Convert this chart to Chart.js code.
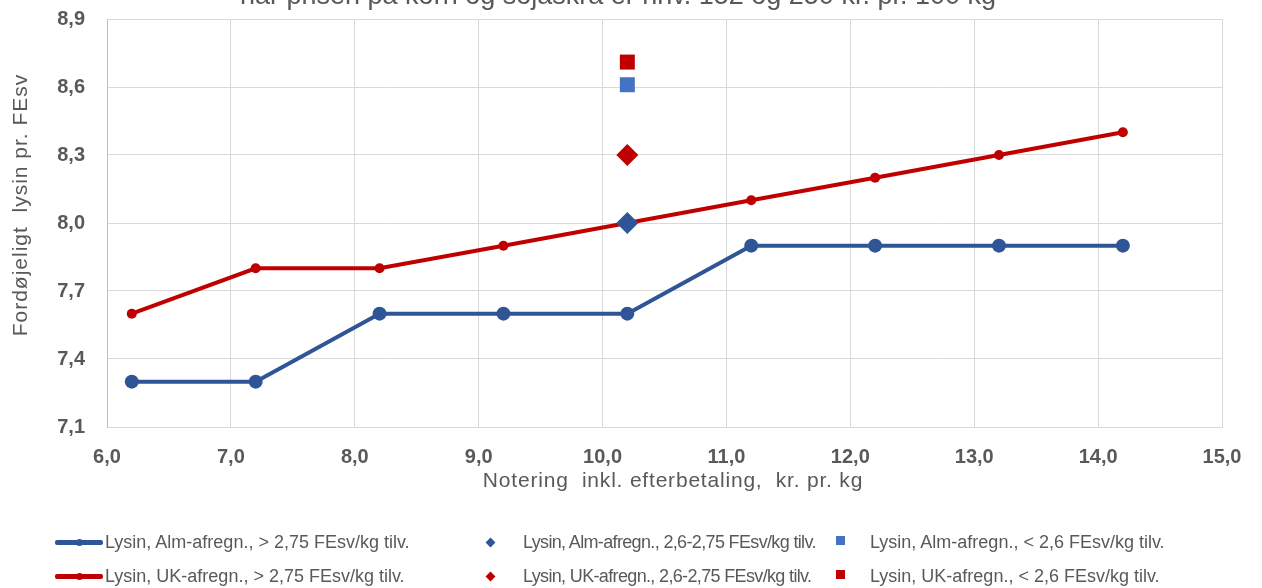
<!DOCTYPE html>
<html>
<head>
<meta charset="utf-8">
<script src="https://cdn.jsdelivr.net/npm/chart.js@4/dist/chart.umd.min.js"></script>
<style>
  html, body { margin: 0; padding: 0; background: #fff; }
  #wrap { position: relative; width: 1262px; height: 588px; overflow: hidden; font-family: "Liberation Sans", Arial, sans-serif; }
  canvas { position: absolute; left: 0; top: 0; }
  .leg { position: absolute; font-size: 18px; color: #595959; white-space: nowrap; line-height: 20px; }
  .sw { position: absolute; }
</style>
</head>
<body>
<div id="wrap">
  <canvas id="c" width="1262" height="588"></canvas>
  <div id="legend"></div>
</div>
<script>
// ---- data ----
const titleText = "når prisen på korn og sojaskrå er hhv. 152 og 250 kr. pr. 100 kg";
const xTitle = "Notering  inkl. efterbetaling,  kr. pr. kg";
const yTitle = "Fordøjeligt  lysin pr. FEsv";
const xValues = [6.2, 7.2, 8.2, 9.2, 10.2, 11.2, 12.2, 13.2, 14.2];
const almLine = [7.3, 7.3, 7.6, 7.6, 7.6, 7.9, 7.9, 7.9, 7.9];
const ukLine  = [7.6, 7.8, 7.8, 7.9, 8.0, 8.1, 8.2, 8.3, 8.4];
const midX = 10.2;
const almDiamond = 8.0;
const ukDiamond = 8.3;
const almSquare = 8.61;
const ukSquare = 8.71;
const labels = [
  "Lysin, Alm-afregn., > 2,75 FEsv/kg tilv.",
  "Lysin, Alm-afregn., 2,6-2,75 FEsv/kg tilv.",
  "Lysin, Alm-afregn., < 2,6 FEsv/kg tilv.",
  "Lysin, UK-afregn., > 2,75 FEsv/kg tilv.",
  "Lysin, UK-afregn., 2,6-2,75 FEsv/kg tilv.",
  "Lysin, UK-afregn., < 2,6 FEsv/kg tilv."
];

const BLUE = "#2F5597", BLUE2 = "#4472C4", RED = "#C00000", GREY = "#595959";
const toPts = (xs, ys) => xs.map((x, i) => ({x, y: ys[i]}));

const extraText = {
  id: 'extraText',
  afterDraw(chart) {
    const ctx = chart.ctx;
    ctx.save();
    ctx.fillStyle = GREY;
    ctx.textAlign = 'center';
    ctx.textBaseline = 'alphabetic';
    ctx.font = '27px "Liberation Sans", Arial, sans-serif';
    ctx.fillText(titleText, 618, 4);
    ctx.textBaseline = 'middle';
    ctx.font = '21px "Liberation Sans", Arial, sans-serif';
    ctx.letterSpacing = '0.8px';
    ctx.fillText(xTitle, 673, 481);
    ctx.letterSpacing = '1px';
    ctx.translate(21, 205);
    ctx.rotate(-Math.PI / 2);
    ctx.fillText(yTitle, 0, 0);
    ctx.restore();
  }
};

new Chart(document.getElementById('c'), {
  type: 'scatter',
  data: {
    datasets: [
      { label: labels[1], data: [{x: midX, y: almDiamond}], backgroundColor: BLUE, borderColor: BLUE, pointStyle: 'rectRot', pointRadius: 11, pointHoverRadius: 11, borderWidth: 0 },
      { label: labels[4], data: [{x: midX, y: ukDiamond}], backgroundColor: RED, borderColor: RED, pointStyle: 'rectRot', pointRadius: 11, pointHoverRadius: 11, borderWidth: 0 },
      { label: labels[2], data: [{x: midX, y: almSquare}], backgroundColor: BLUE2, borderColor: BLUE2, pointStyle: 'rect', pointRadius: 10.6, pointHoverRadius: 10.6, borderWidth: 0 },
      { label: labels[5], data: [{x: midX, y: ukSquare}], backgroundColor: RED, borderColor: RED, pointStyle: 'rect', pointRadius: 10.6, pointHoverRadius: 10.6, borderWidth: 0 },
      { label: labels[3], data: toPts(xValues, ukLine), showLine: true, borderColor: RED, backgroundColor: RED, borderWidth: 4, pointRadius: 5, pointHoverRadius: 5, pointBorderWidth: 0 },
      { label: labels[0], data: toPts(xValues, almLine), showLine: true, borderColor: BLUE, backgroundColor: BLUE, borderWidth: 4, pointRadius: 7, pointHoverRadius: 7, pointBorderWidth: 0 }
    ]
  },
  options: {
    responsive: false,
    animation: false,
    events: [],
    layout: { padding: { left: 30, right: 40, top: 19, bottom: 91 } },
    plugins: { legend: { display: false }, title: { display: false }, tooltip: { enabled: false } },
    scales: {
      x: {
        type: 'linear', min: 6, max: 15,
        afterFit: s => { s.height = 70; },
        border: { display: true, color: '#d9d9d9', width: 1 },
        grid: { color: '#d9d9d9', lineWidth: 1, drawTicks: false },
        ticks: { stepSize: 1, padding: 18, color: GREY, font: { family: '"Liberation Sans", Arial', size: 20, weight: 'bold' },
          callback: v => v.toFixed(1).replace('.', ',') }
      },
      y: {
        type: 'linear', min: 7.1, max: 8.9,
        afterFit: s => { s.width = 77; s.paddingTop = 0; s.paddingBottom = 0; },
        border: { display: true, color: '#bfbfbf', width: 1 },
        grid: { color: '#d9d9d9', lineWidth: 1, drawTicks: false },
        ticks: { stepSize: 0.3, padding: 22, color: GREY, font: { family: '"Liberation Sans", Arial', size: 20, weight: 'bold' },
          callback: v => (Math.round(v * 10) / 10).toFixed(1).replace('.', ',') }
      }
    }
  },
  plugins: [extraText]
});

// ---- legend (HTML) ----
const legend = document.getElementById('legend');
const cols = [{sw: 55, tx: 105, ls: 0}, {sw: 490, tx: 523, ls: -0.65}, {sw: 840, tx: 870, ls: 0}];
const rows = [542, 576];
const kinds = ['line', 'diamond', 'square'];
const colors = [[BLUE, BLUE, BLUE2], [RED, RED, RED]];
labels.forEach((lab, i) => {
  const r = Math.floor(i / 3), c = i % 3;
  const cy = rows[r];
  const t = document.createElement('div');
  t.className = 'leg';
  t.textContent = lab;
  t.style.left = cols[c].tx + 'px';
  t.style.top = (cy - 10) + 'px';
  t.style.letterSpacing = cols[c].ls + 'px';
  legend.appendChild(t);
  const k = kinds[c], col = colors[r][c];
  if (k === 'line') {
    const l = document.createElement('div');
    l.className = 'sw';
    l.style.cssText = `left:${cols[c].sw}px;top:${cy-2}px;width:48px;height:5px;background:${col};border-radius:2px;`;
    legend.appendChild(l);
    const d = document.createElement('div');
    d.className = 'sw';
    d.style.cssText = `left:${cols[c].sw+21}px;top:${cy-3}px;width:7px;height:7px;background:${col};border-radius:4px;`;
    legend.appendChild(d);
  } else if (k === 'diamond') {
    const d = document.createElement('div');
    d.className = 'sw';
    d.style.cssText = `left:${cols[c].sw-3}px;top:${cy-3}px;width:7px;height:7px;background:${col};transform:rotate(45deg);`;
    legend.appendChild(d);
  } else {
    const d = document.createElement('div');
    d.className = 'sw';
    d.style.cssText = `left:${cols[c].sw-4}px;top:${cy-6}px;width:9px;height:9px;background:${col};`;
    legend.appendChild(d);
  }
});
</script>
</body>
</html>
